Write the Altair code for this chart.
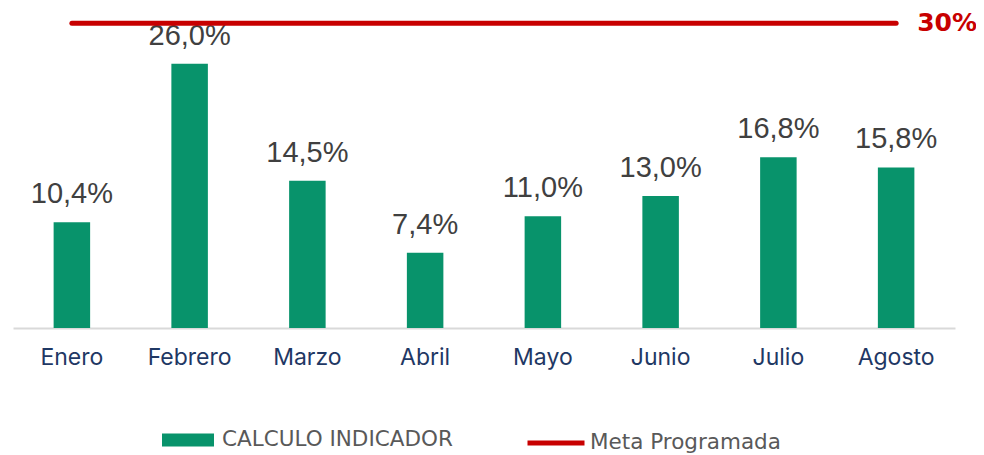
import altair as alt
import pandas as pd

months = ["Enero", "Febrero", "Marzo", "Abril", "Mayo", "Junio", "Julio", "Agosto"]
values = [10.4, 26.0, 14.5, 7.4, 11.0, 13.0, 16.8, 15.8]
meta_value = 30
meta_label = "30%"
bar_series = "CALCULO INDICADOR"
meta_series = "Meta Programada"

GREEN = "#08936B"
RED = "#C80000"
FONT = "Liberation Sans"

df = pd.DataFrame({"mes": months, "v": values, "s": [bar_series] * len(months)})
meta_df = pd.DataFrame({"x": [months[0]], "x2": [months[-1]], "y": [meta_value],
                        "s": [meta_series], "lab": [meta_label]})

x_scale = alt.Scale(domain=months, paddingInner=0.69, paddingOuter=0.345)
x_enc = alt.X("mes:N", title=None, scale=x_scale,
              axis=alt.Axis(labelFontSize=23, labelColor="#1F3864", labelFont="Inter",
                            labelPadding=18, ticks=False, domainColor="#D9D9D9",
                            domainWidth=2, labelAngle=0))
y_scale = alt.Scale(domain=[0, 31], nice=False)

leg_common = dict(orient="none", title=None, labelFontSize=21.5, labelFont="DejaVu Sans",
                  labelColor="#595959", padding=0, labelLimit=0)

bars = alt.Chart(df).mark_bar().encode(
    x=x_enc,
    y=alt.Y("v:Q", scale=y_scale, axis=None),
    fill=alt.Fill("s:N", scale=alt.Scale(domain=[bar_series], range=[GREEN]),
                  legend=alt.Legend(legendX=149, legendY=401, labelOffset=8,
                                    symbolType="M-1,-0.25H1V0.25H-1Z", symbolSize=2704,
                                    symbolStrokeWidth=0, **leg_common)),
)

labels = alt.Chart(df).transform_calculate(
    t="replace(format(datum.v, '.1f'), '.', ',') + '%'"
).mark_text(fontSize=29, font=FONT, color="#404040", baseline="alphabetic", dy=-19).encode(
    x=alt.X("mes:N", scale=x_scale),
    y=alt.Y("v:Q", scale=y_scale),
    text="t:N",
)

rule = alt.Chart(meta_df).mark_rule(strokeWidth=5, strokeCap="round").encode(
    x=alt.X("x:N", scale=x_scale),
    x2="x2:N",
    y=alt.Y("y:Q", scale=y_scale),
    stroke=alt.Stroke("s:N", scale=alt.Scale(domain=[meta_series], range=[RED]),
                      legend=alt.Legend(legendX=512, legendY=399, labelOffset=3,
                                        symbolType="stroke", symbolSize=3249,
                                        symbolStrokeWidth=5, **leg_common)),
)

meta_text = alt.Chart(meta_df).mark_text(fontSize=25, font="DejaVu Sans", fontWeight="bold",
                                         color=RED, align="left", baseline="middle",
                                         dx=21).encode(
    x=alt.X("x2:N", scale=x_scale),
    y=alt.Y("y:Q", scale=y_scale),
    text="lab:N",
)

chart = alt.layer(bars, labels, rule, meta_text).properties(
    width=942, height=315,
    autosize=alt.AutoSizeParams(type="none"),
    padding={"left": 5, "top": 5, "right": 21, "bottom": 130},
).configure_view(stroke=None)

chart.save("out.html", embed_options={"renderer": "svg", "actions": False})
